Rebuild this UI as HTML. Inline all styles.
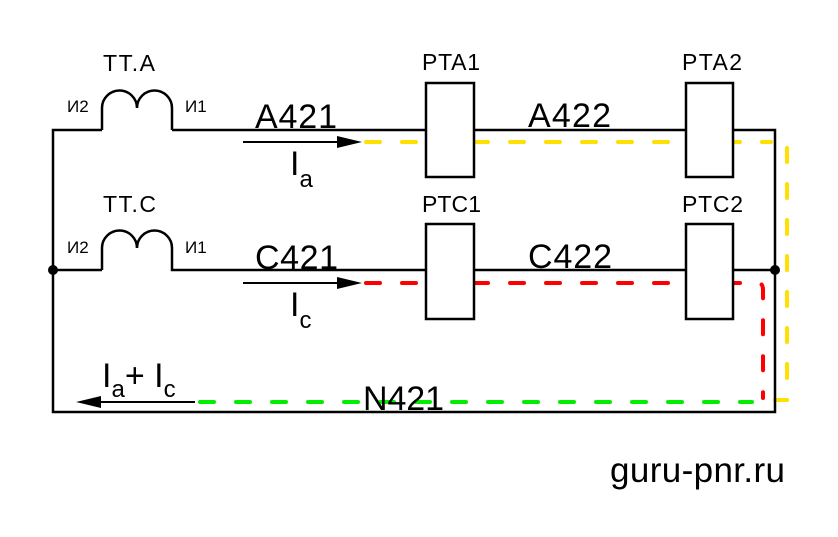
<!DOCTYPE html>
<html><head><style>body{margin:0;background:#fff}svg{display:block}text{font-family:"Liberation Sans",sans-serif;fill:#000}</style></head><body>
<svg width="838" height="537" viewBox="0 0 838 537" xmlns="http://www.w3.org/2000/svg">
<g fill="none" stroke-linecap="round">
<path d="M366 142H771" stroke="#ffe000" stroke-width="4" stroke-dasharray="14 22"/>
<path d="M787 148V400H775" stroke="#ffe000" stroke-width="4" stroke-dasharray="14 22"/>
<path d="M366 283H758Q763 283 763 290V398" stroke="#f00" stroke-width="4" stroke-dasharray="14 22"/>
<path d="M200 402H752" stroke="#0e0" stroke-width="4" stroke-dasharray="14 22"/>
</g>
<g fill="none" stroke="#000" stroke-width="2.5">
<path d="M102 130H53V412H775V130H733M686 130H474M426 130H172"/>
<path d="M102 130V108A17.5 17.5 0 0 1 137 108A17.5 17.5 0 0 1 172 108V130"/>
<path d="M102 270H53M102 270V248A17.5 17.5 0 0 1 137 248A17.5 17.5 0 0 1 172 248V270H426M474 270H686M733 270H775"/>
<rect x="426" y="83" width="48" height="94" fill="#fff"/>
<rect x="686" y="83" width="47" height="94" fill="#fff"/>
<rect x="426" y="224" width="48" height="95" fill="#fff"/>
<rect x="686" y="224" width="47" height="95" fill="#fff"/>
<path d="M243 142H340M243 283H340M195 402H98" stroke-width="2"/>
</g>
<polygon points="337,136 362,142 337,148" fill="#000"/>
<polygon points="337,277 362,283 337,289" fill="#000"/>
<polygon points="101,396 76,402 101,408" fill="#000"/>
<circle cx="53" cy="270" r="5" fill="#000"/>
<circle cx="775" cy="270" r="5" fill="#000"/>
<g font-size="23">
<text x="103" y="71" textLength="52">TT.A</text><text x="103" y="212" textLength="53">TT.C</text>
<text x="422" y="70" textLength="58">PTA1</text><text x="682" y="70" textLength="60">PTA2</text>
<text x="422" y="212" textLength="59">PTC1</text><text x="682" y="212" textLength="61">PTC2</text>
</g>
<g font-size="17"><text x="67" y="112">И2</text><text x="185" y="112">И1</text><text x="67" y="253">И2</text><text x="185" y="253">И1</text></g>
<g font-size="34">
<text x="255" y="128" textLength="82">A421</text><text x="528" y="127" textLength="83">A422</text>
<text x="255" y="269" textLength="83">C421</text><text x="528" y="268" textLength="84">C422</text>
<text x="363" y="410" textLength="81">N421</text>
</g>
<g font-size="34"><text x="290" y="175">I<tspan font-size="24" dy="12">a</tspan></text>
<text x="290" y="316">I<tspan font-size="24" dy="12">c</tspan></text>
<text x="102" y="387">I<tspan font-size="24" dy="10">a</tspan><tspan dy="-10">+ I</tspan><tspan font-size="24" dy="10">c</tspan></text></g>
<text x="610" y="482" font-size="35" textLength="175">guru-pnr.ru</text>
</svg>
</body></html>
